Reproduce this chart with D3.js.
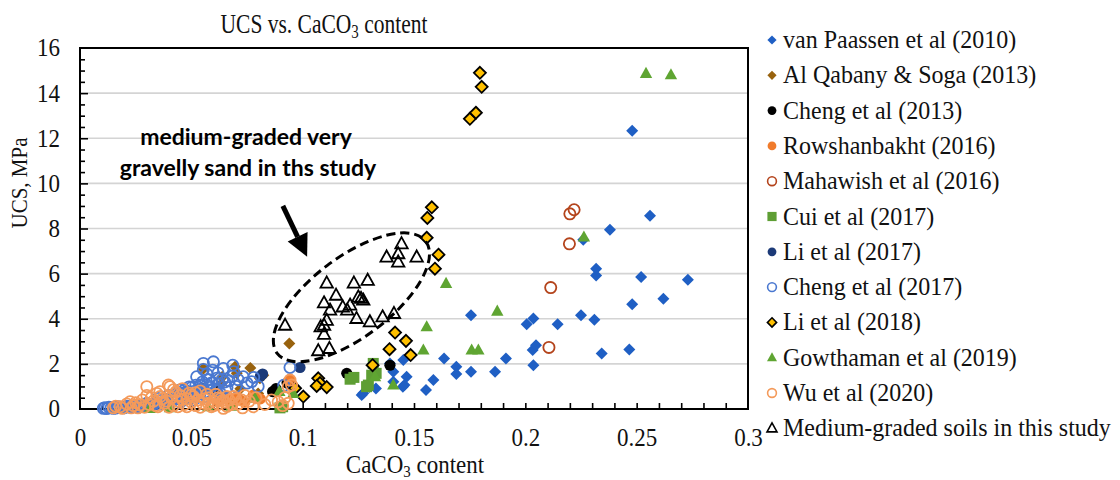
<!DOCTYPE html>
<html>
<head>
<meta charset="utf-8">
<script src="https://cdn.jsdelivr.net/npm/d3@7"></script>
<style>
  body { margin: 0; background: #fff; }
  svg { display: block; }
</style>
</head>
<body>
<svg id="chart" width="1120" height="480"></svg>
<script>
// ---- axis ticks ----
const xTickValues = [0, 0.05, 0.1, 0.15, 0.2, 0.25, 0.3];
const xTickLabels = ["0", "0.05", "0.1", "0.15", "0.2", "0.25", "0.3"];
const yTickValues = [0, 2, 4, 6, 8, 10, 12, 14, 16];
const yTickLabels = ["0", "2", "4", "6", "8", "10", "12", "14", "16"];

// ---- series: [CaCO3 content, UCS (MPa)] ----
const vanPaassen2010 = [
  [0.1265,0.62],[0.1272,0.70],[0.130,0.98],[0.1329,0.91],[0.1392,2.02],[0.1407,1.65],[0.1407,1.21],
  [0.1452,2.17],[0.1467,1.43],[0.1457,1.06],[0.145,0.99],[0.1554,0.84],[0.1587,1.28],[0.1635,2.24],
  [0.169,1.87],[0.169,1.55],[0.1756,1.65],[0.1756,4.15],[0.1864,1.65],[0.1913,2.24],[0.2036,1.94],
  [0.2033,2.61],[0.2048,2.83],[0.2006,3.76],[0.2036,4.01],[0.2145,3.76],[0.225,4.15],[0.231,3.96],
  [0.2343,2.46],[0.2467,2.64],[0.248,4.64],[0.262,4.89],[0.2318,5.92],[0.2318,6.22],[0.252,5.85],
  [0.273,5.73],[0.226,7.5],[0.238,7.95],[0.256,8.57],[0.248,12.33]
];
const alQabanySoga2013 = [
  [0.0554,1.78],[0.0636,1.13],[0.0639,1.43],[0.0696,1.87],[0.0704,1.58],[0.0765,1.82],[0.0808,1.36],
  [0.0823,1.50],[0.080,0.69],[0.0778,0.62],[0.094,2.90],[0.072,0.90]
];
const cheng2013 = [
  [0.0614,0.77],[0.0865,0.77],[0.093,1.15],[0.1198,1.58],[0.1392,1.94],[0.088,0.90]
];
const rowshanbakht2016 = [
  [0.062,0.35],[0.066,0.50],[0.0704,0.55],[0.0719,0.40],[0.0778,0.62],[0.074,0.30],[0.081,0.45],
  [0.0943,1.30],[0.068,0.25]
];
const mahawish2016 = [
  [0.220,8.65],[0.2219,8.83],[0.2198,7.32],[0.2114,5.38],[0.2106,2.73]
];
const cui2017 = [
  [0.0898,0.05],[0.091,0.10],[0.1213,1.32],[0.123,1.40],[0.1287,0.99],[0.1295,1.06],[0.131,1.50],
  [0.1317,2.02],[0.133,1.58]
];
const li2017 = [
  [0.082,1.55],[0.0988,1.84],[0.081,1.45],[0.055,0.90]
];
const cheng2017 = [
  [0.0105,0.03],[0.0112,0.05],[0.013,0.08],[0.015,0.03],[0.017,0.10],[0.019,0.05],[0.021,0.12],
  [0.023,0.08],[0.025,0.15],[0.027,0.10],[0.029,0.20],[0.030,0.25],[0.032,0.18],[0.034,0.30],
  [0.035,0.47],[0.036,0.22],[0.038,0.35],[0.0397,0.60],[0.040,0.25],[0.042,0.40],[0.043,0.55],
  [0.0449,0.84],[0.045,0.30],[0.046,0.65],[0.047,0.50],[0.048,0.75],[0.049,0.45],[0.050,0.95],
  [0.051,0.40],[0.052,0.60],[0.0524,1.43],[0.053,0.80],[0.0539,1.06],[0.0539,0.69],[0.0554,1.75],
  [0.0554,2.02],[0.0569,1.06],[0.057,0.55],[0.058,1.30],[0.0596,1.72],[0.0599,2.09],[0.060,0.90],
  [0.0614,1.36],[0.062,1.10],[0.063,0.70],[0.0644,1.80],[0.065,1.20],[0.066,0.95],[0.0686,1.46],
  [0.0686,1.94],[0.070,1.00],[0.0733,1.43],[0.0771,1.21],[0.080,1.00],[0.0915,1.05],[0.0943,1.84],
  [0.012,0.02],[0.014,0.06],[0.016,0.04],[0.018,0.08],[0.020,0.06],[0.022,0.10],[0.024,0.12],
  [0.026,0.08],[0.028,0.14],[0.031,0.12],[0.033,0.22],[0.036,0.38],[0.037,0.28],[0.039,0.42],
  [0.041,0.35],[0.042,0.62],[0.044,0.48],[0.045,0.72],[0.046,0.38],[0.047,0.85],[0.048,0.55],
  [0.049,0.98],[0.050,0.62],[0.051,0.78],[0.052,1.05],[0.053,0.52],[0.054,0.88],[0.055,1.20],
  [0.056,0.75],[0.057,1.55],[0.058,0.95],[0.059,1.15],[0.061,0.82],[0.062,1.60],[0.064,1.30],
  [0.067,1.25],[0.069,1.65],[0.071,1.30],[0.075,1.15],[0.078,1.40]
];
const li2018 = [
  [0.0966,0.92],[0.1003,0.55],[0.107,1.36],[0.1078,1.15],[0.1063,1.02],[0.1108,0.97],[0.1314,1.94],
  [0.139,2.65],[0.1415,3.39],[0.1464,3.02],[0.1485,2.39],[0.1557,7.59],[0.1594,6.22],[0.156,8.47],
  [0.158,8.94],[0.161,6.84],[0.1751,12.86],[0.1778,13.13],[0.1796,14.90],[0.1804,14.28]
];
const gowthaman2019 = [
  [0.0314,0.02],[0.0404,0.05],[0.0576,0.10],[0.068,0.12],[0.0786,0.47],[0.0895,0.77],[0.0958,0.69],
  [0.1325,1.43],[0.1407,1.06],[0.1542,2.61],[0.1557,3.64],[0.1644,5.56],[0.1759,2.61],[0.1789,2.61],
  [0.1874,4.33],[0.2263,7.62],[0.2542,14.87],[0.2654,14.81]
];
const wu2020 = [
  [0.015,0.05],[0.018,0.10],[0.0225,0.32],[0.024,0.15],[0.026,0.05],[0.028,0.40],[0.030,0.99],
  [0.030,0.60],[0.031,0.20],[0.033,0.35],[0.0345,0.69],[0.035,0.10],[0.0359,0.77],[0.037,0.45],
  [0.038,0.25],[0.0397,1.06],[0.0404,0.99],[0.041,0.50],[0.042,0.15],[0.043,0.75],[0.044,0.35],
  [0.045,0.60],[0.046,0.90],[0.047,0.20],[0.048,0.45],[0.049,0.70],[0.050,0.30],[0.051,0.55],
  [0.052,0.15],[0.053,0.40],[0.054,0.80],[0.055,0.25],[0.0576,0.25],[0.058,0.50],[0.059,0.10],
  [0.060,0.35],[0.061,0.65],[0.062,0.20],[0.063,0.45],[0.0644,0.03],[0.065,0.30],[0.066,0.55],
  [0.068,0.20],[0.070,0.45],[0.0726,0.40],[0.074,0.60],[0.0778,0.10],[0.089,0.32],[0.0935,0.25],
  [0.0935,0.99],[0.0943,1.28],[0.095,1.06],[0.092,0.50],
  [0.016,0.12],[0.019,0.03],[0.021,0.22],[0.023,0.05],[0.025,0.28],[0.027,0.18],[0.029,0.08],
  [0.032,0.50],[0.034,0.15],[0.036,0.55],[0.039,0.35],[0.040,0.08],[0.042,0.85],[0.044,0.10],
  [0.046,0.42],[0.048,0.10],[0.050,0.62],[0.052,0.72],[0.054,0.08],[0.056,0.45],[0.057,0.65],
  [0.060,0.15],[0.062,0.50],[0.064,0.38],[0.066,0.12],[0.067,0.40],[0.069,0.55],[0.071,0.22],
  [0.073,0.05],[0.076,0.35],[0.079,0.50],[0.083,0.20],[0.086,0.40],[0.091,0.15]
];
const mediumGradedThisStudy = [
  [0.1444,7.32],[0.1377,6.73],[0.1429,6.88],[0.1429,6.51],[0.1512,6.73],[0.1108,5.58],[0.1230,5.58],
  [0.1292,5.70],[0.1150,5.04],[0.1096,4.70],[0.1250,4.96],[0.1272,4.82],[0.1262,4.90],[0.1180,4.52],
  [0.1213,4.60],[0.1200,4.38],[0.1123,4.38],[0.1242,4.01],[0.1302,3.86],[0.1359,4.08],[0.1410,4.23],
  [0.1108,3.93],[0.1096,3.71],[0.1081,3.64],[0.1096,3.31],[0.0921,3.71],[0.1070,2.58],[0.1120,2.68]
];

const seriesNames = [
  "van Paassen et al (2010)", "Al Qabany & Soga (2013)", "Cheng et al (2013)", "Rowshanbakht (2016)",
  "Mahawish et al (2016)", "Cui et al (2017)", "Li et al (2017)", "Cheng et al (2017)",
  "Li et al (2018)", "Gowthaman et al (2019)", "Wu et al (2020)", "Medium-graded soils in this study"
];
const seriesData = [
  vanPaassen2010, alQabanySoga2013, cheng2013, rowshanbakht2016, mahawish2016, cui2017,
  li2017, cheng2017, li2018, gowthaman2019, wu2020, mediumGradedThisStudy
];

// marker appearance per series (same order as above)
const seriesStyle = [
  { shape: "diamond",  fill: "#1f5fc4", stroke: "none" },
  { shape: "diamond",  fill: "#98620e", stroke: "none" },
  { shape: "circle",   fill: "#000000", stroke: "none" },
  { shape: "circle",   fill: "#f07b2c", stroke: "none" },
  { shape: "circle",   fill: "none",    stroke: "#b4441c" },
  { shape: "square",   fill: "#5e9e34", stroke: "none" },
  { shape: "circle",   fill: "#1c3a78", stroke: "none" },
  { shape: "circle",   fill: "none",    stroke: "#4a78d0" },
  { shape: "diamond",  fill: "#ffc000", stroke: "#000000" },
  { shape: "triangle", fill: "#5fa532", stroke: "none" },
  { shape: "circle",   fill: "none",    stroke: "#f49a5a" },
  { shape: "triangle", fill: "none",    stroke: "#000000" }
];

const serif = "'Liberation Serif', 'Times New Roman', serif";
const svg = d3.select("#chart");
const x = d3.scaleLinear().domain([0, 0.3]).range([80, 748]);
const y = d3.scaleLinear().domain([0, 16]).range([409, 48]);

function markerPath(shape, r) {
  switch (shape) {
    case "diamond": return `M0,${-r}L${r},0L0,${r}L${-r},0Z`;
    case "square":  return `M${-r},${-r}H${r}V${r}H${-r}Z`;
    case "triangle": {
      const h = r * 1.8;
      return `M0,${-h * 0.6}L${r},${h * 0.4}L${-r},${h * 0.4}Z`;
    }
    default: return d3.arc()({ innerRadius: 0, outerRadius: r, startAngle: 0, endAngle: 2 * Math.PI });
  }
}
function plotSize(shape) {
  return { diamond: 6, square: 5.5, triangle: 6.2, circle: 5.6 }[shape];
}
function legendSize(shape) {
  return { diamond: 4.6, square: 4.6, triangle: 5, circle: 4.4 }[shape];
}

// ---- gridlines ----
svg.append("g")
  .selectAll("line")
  .data(yTickValues.filter(v => v > 0 && v < 16))
  .join("line")
  .attr("x1", x(0)).attr("x2", x(0.3))
  .attr("y1", d => y(d)).attr("y2", d => y(d))
  .attr("stroke", "#d4d4d4").attr("stroke-width", 1.6);

// ---- minor / major tick marks (pointing inside) ----
const xMinor = d3.range(1, 30).map(i => i / 100);
svg.append("g")
  .attr("transform", `translate(0,${y(0)})`)
  .call(d3.axisBottom(x).tickValues(xMinor).tickSizeInner(-6).tickSizeOuter(0).tickFormat(""))
  .call(g => g.select(".domain").remove())
  .call(g => g.selectAll("line").attr("stroke", "#000").attr("stroke-width", 1.6));

const yMinor = d3.range(1, 32).map(i => i / 2);
svg.append("g")
  .attr("transform", `translate(${x(0)},0)`)
  .call(d3.axisLeft(y).tickValues(yMinor).tickSizeInner(-5).tickSizeOuter(0).tickFormat(""))
  .call(g => g.select(".domain").remove())
  .call(g => g.selectAll("line")
    .attr("x2", d => (d % 2 === 0 ? 8 : 5))
    .attr("stroke", "#000").attr("stroke-width", 1.6));

// ---- tick labels ----
svg.append("g")
  .attr("transform", `translate(0,${y(0)})`)
  .call(d3.axisBottom(x).tickValues(xTickValues).tickSize(0).tickPadding(18)
    .tickFormat((d, i) => xTickLabels[i]))
  .call(g => g.select(".domain").remove())
  .call(g => g.selectAll("text")
    .attr("font-family", serif).attr("font-size", 23).attr("fill", "#111")
    .attr("transform", "scale(1,1.08)"));

svg.append("g")
  .attr("transform", `translate(${x(0)},0)`)
  .call(d3.axisLeft(y).tickValues(yTickValues).tickSize(0).tickPadding(20)
    .tickFormat((d, i) => yTickLabels[i]))
  .call(g => g.select(".domain").remove())
  .call(g => g.selectAll("text")
    .attr("font-family", serif).attr("font-size", 23).attr("fill", "#111")
    .attr("transform", "scale(1,1.08)"));

// ---- plot frame ----
svg.append("rect")
  .attr("x", x(0)).attr("y", y(16))
  .attr("width", x(0.3) - x(0)).attr("height", y(0) - y(16))
  .attr("fill", "none").attr("stroke", "#000").attr("stroke-width", 2);

// ---- data points ----
const pts = svg.append("g");
seriesData.forEach((data, i) => {
  const st = seriesStyle[i];
  pts.append("g")
    .selectAll("path")
    .data(data)
    .join("path")
    .attr("transform", d => `translate(${x(d[0])},${y(d[1])})`)
    .attr("d", markerPath(st.shape, plotSize(st.shape)))
    .attr("fill", st.fill)
    .attr("stroke", st.stroke)
    .attr("stroke-width", st.stroke === "none" ? 0 : 1.8);
});

// ---- ellipse around this study's data ----
const ell = { cx: 0.1219, cy: 4.95 };
svg.append("ellipse")
  .attr("transform", `translate(${x(ell.cx)},${y(ell.cy)}) rotate(-37)`)
  .attr("rx", 93).attr("ry", 40)
  .attr("fill", "none").attr("stroke", "#000")
  .attr("stroke-width", 3).attr("stroke-dasharray", "9,5");

// ---- arrow ----
const arrowFrom = [x(0.0911), y(9.0)];
const arrowTo = [x(0.1020), y(6.75)];
const ang = Math.atan2(arrowTo[1] - arrowFrom[1], arrowTo[0] - arrowFrom[0]);
const headLen = 22, headHalf = 11;
const baseX = arrowTo[0] - headLen * Math.cos(ang), baseY = arrowTo[1] - headLen * Math.sin(ang);
svg.append("line")
  .attr("x1", arrowFrom[0]).attr("y1", arrowFrom[1])
  .attr("x2", baseX).attr("y2", baseY)
  .attr("stroke", "#000").attr("stroke-width", 5);
svg.append("path")
  .attr("d", `M${arrowTo[0]},${arrowTo[1]}` +
    `L${baseX - headHalf * Math.sin(ang)},${baseY + headHalf * Math.cos(ang)}` +
    `L${baseX + headHalf * Math.sin(ang)},${baseY - headHalf * Math.cos(ang)}Z`)
  .attr("fill", "#000");

// ---- annotation ----
const note = svg.append("text")
  .attr("font-family", "Lato, 'Open Sans', sans-serif")
  .attr("font-weight", "bold").attr("font-size", 23)
  .attr("text-anchor", "middle").attr("fill", "#000");
note.append("tspan").attr("x", 246).attr("y", 145).text("medium-graded very");
note.append("tspan").attr("x", 248).attr("y", 176).text("gravelly sand in ths study");

// ---- title ----
const title = svg.append("text")
  .attr("transform", "translate(324,33) scale(1,1.25)")
  .attr("text-anchor", "middle")
  .attr("font-family", serif)
  .attr("font-size", 21.5).attr("fill", "#111");
title.append("tspan").text("UCS vs. CaCO");
title.append("tspan").attr("font-size", 15).attr("dy", 4).text("3");
title.append("tspan").attr("dy", -4).text(" content");

// ---- axis titles ----
const xTitle = svg.append("text")
  .attr("transform", "translate(415,473) scale(1,1.08)")
  .attr("text-anchor", "middle")
  .attr("font-family", serif)
  .attr("font-size", 23).attr("fill", "#111");
xTitle.append("tspan").text("CaCO");
xTitle.append("tspan").attr("font-size", 15).attr("dy", 4).text("3");
xTitle.append("tspan").attr("dy", -4).text(" content");

svg.append("text")
  .attr("transform", "translate(27,183) rotate(-90) scale(1,1.08)")
  .attr("text-anchor", "middle")
  .attr("font-family", serif)
  .attr("font-size", 21).attr("fill", "#111")
  .text("UCS, MPa");

// ---- legend ----
const legend = svg.append("g");
seriesNames.forEach((name, i) => {
  const st = seriesStyle[i];
  const ly = 40 + i * 35.3;
  legend.append("path")
    .attr("transform", `translate(772,${ly})`)
    .attr("d", markerPath(st.shape, legendSize(st.shape)))
    .attr("fill", st.fill).attr("stroke", st.stroke)
    .attr("stroke-width", st.stroke === "none" ? 0 : 1.6);
  legend.append("text")
    .attr("transform", `translate(783,${ly + 8}) scale(1,1.08)`)
    .attr("font-family", serif)
    .attr("font-size", 24).attr("fill", "#111")
    .text(name);
});
</script>
</body>
</html>
